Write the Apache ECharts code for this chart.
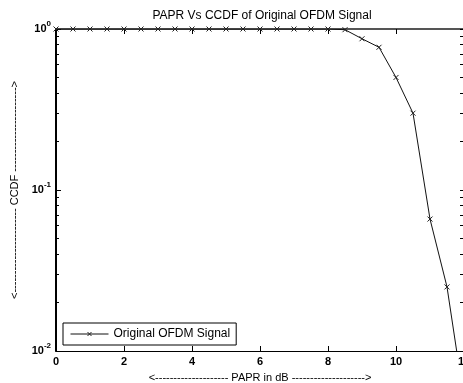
<!DOCTYPE html>
<html>
<head>
<meta charset="utf-8">
<script src="https://cdn.jsdelivr.net/npm/echarts@6/dist/echarts.min.js"></script>
<style>
  html, body { margin: 0; padding: 0; background: #fff; }
  #chart { width: 463px; height: 383px; }
</style>
</head>
<body>
<div id="chart"></div>
<script>
// PAPR values (dB) and CCDF
const paprDb = [0, 0.5, 1, 1.5, 2, 2.5, 3, 3.5, 4, 4.5, 5, 5.5, 6, 6.5, 7, 7.5, 8,
  8.5, 9, 9.5, 10, 10.5, 11, 11.5, 12];
const ccdf = [1, 1, 1, 1, 1, 1, 1, 1, 1, 1, 1, 1, 1, 1, 1, 1, 1,
  0.99, 0.87, 0.77, 0.50, 0.30, 0.066, 0.025, 0.005];
const xTicks = [0, 2, 4, 6, 8, 10, 12];
const yMinorTicks = [0.02, 0.03, 0.04, 0.05, 0.06, 0.07, 0.08, 0.09,
  0.2, 0.3, 0.4, 0.5, 0.6, 0.7, 0.8, 0.9];
const yAllTicks = [0.01, 0.02, 0.03, 0.04, 0.05, 0.06, 0.07, 0.08, 0.09,
  0.1, 0.2, 0.3, 0.4, 0.5, 0.6, 0.7, 0.8, 0.9, 1];

const font = 'Liberation Sans, Arial, sans-serif';
const chart = echarts.init(document.getElementById('chart'));

const seriesData = paprDb.map((x, i) => [x, ccdf[i]]);
const crossIcon = 'path://M0,0L10,10M10,0L0,10';

// y axis tick label like 10^-1
function expLabel(v) {
  const e = Math.round(Math.log10(v));
  return '{b|10}{s|' + e + '}';
}

const labelRich = {
  b: { fontFamily: font, fontSize: 11, fontWeight: 'bold', color: '#000' },
  s: { fontFamily: font, fontSize: 8, fontWeight: 'bold', color: '#000', padding: [0, 0, 10, 0] }
};

const option = {
  animation: false,
  backgroundColor: '#fff',
  title: {
    text: 'PAPR Vs CCDF of Original OFDM Signal',
    left: 257,
    textAlign: 'center',
    top: 5,
    textStyle: { fontFamily: font, fontSize: 12, fontWeight: 'normal', color: '#000' }
  },
  legend: {
    left: 63,
    top: 323,
    orient: 'vertical',
    backgroundColor: '#fff',
    borderColor: '#000',
    borderWidth: 1,
    padding: [5, 6, 5, 7],
    itemWidth: 38,
    itemHeight: 5,
    textStyle: { fontFamily: font, fontSize: 12, color: '#000' },
    lineStyle: { width: 1 },
    itemStyle: { borderWidth: 1 },
    data: ['Original OFDM Signal']
  },
  grid: { left: 56, right: -1, top: 29, bottom: 32, outerBoundsMode: 'none' },
  xAxis: [{
    type: 'value',
    min: 0,
    max: 12,
    interval: 2,
    name: '<-------------------- PAPR in dB -------------------->',
    nameLocation: 'middle',
    nameGap: 21,
    nameTextStyle: { fontFamily: font, fontSize: 11, color: '#000' },
    axisLine: { show: true, lineStyle: { color: '#000', width: 1 } },
    axisTick: { show: true, inside: true, length: 5, lineStyle: { color: '#000' },
      customValues: xTicks },
    axisLabel: { show: true, margin: 5, fontFamily: font, fontSize: 11, fontWeight: 'bold',
      color: '#000', customValues: xTicks },
    splitLine: { show: false }
  }, {
    type: 'value',
    position: 'top',
    min: 0,
    max: 12,
    interval: 2,
    axisLine: { show: true, lineStyle: { color: '#555', width: 2 } },
    axisTick: { show: true, inside: true, length: 5, lineStyle: { color: '#000' } },
    axisLabel: { show: false },
    splitLine: { show: false }
  }],
  yAxis: [{
    type: 'log',
    logBase: 10,
    min: 0.01,
    max: 1,
    name: '<----------------------- CCDF ----------------------->',
    nameLocation: 'middle',
    nameRotate: 90,
    nameGap: 33,
    nameTextStyle: { fontFamily: font, fontSize: 11, color: '#000' },
    axisLine: { show: true, lineStyle: { color: '#000', width: 2 } },
    axisTick: { show: true, inside: true, length: 5, lineStyle: { color: '#000' } },
    axisLabel: { show: true, margin: 5, formatter: expLabel, rich: labelRich },
    splitLine: { show: false }
  }, {
    type: 'log',
    logBase: 10,
    min: 0.01,
    max: 1,
    position: 'left',
    axisLine: { show: false },
    axisTick: { show: true, inside: true, length: 3, lineStyle: { color: '#000' },
      customValues: yMinorTicks },
    axisLabel: { show: false },
    splitLine: { show: false }
  }, {
    type: 'log',
    logBase: 10,
    min: 0.01,
    max: 1,
    position: 'right',
    axisLine: { show: true, lineStyle: { color: '#000', width: 1 } },
    axisTick: { show: true, inside: true, length: 4, lineStyle: { color: '#000' },
      customValues: yAllTicks },
    axisLabel: { show: false },
    splitLine: { show: false }
  }],
  series: [{
    name: 'Original OFDM Signal',
    type: 'line',
    data: seriesData,
    clip: true,
    symbol: crossIcon,
    symbolSize: 5,
    showAllSymbol: true,
    lineStyle: { color: '#111', width: 1 },
    itemStyle: { color: 'transparent', borderColor: '#222', borderWidth: 1 }
  }]
};

chart.setOption(option);
</script>
</body>
</html>
